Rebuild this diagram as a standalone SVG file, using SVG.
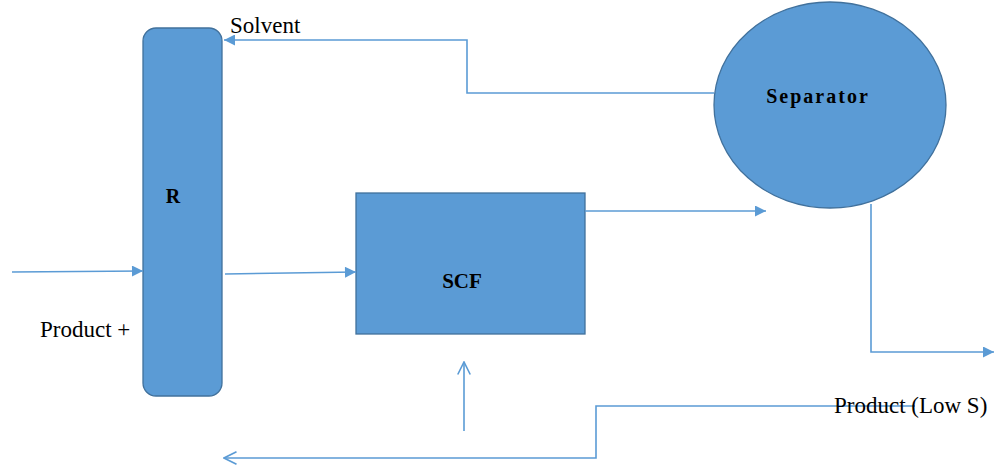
<svg xmlns="http://www.w3.org/2000/svg" width="1000" height="468" viewBox="0 0 1000 468">
<defs>
<style>
.shape{fill:#5b9bd5;stroke:#41719c;stroke-width:1.3}
.conn{fill:none;stroke:#5b9bd5;stroke-width:1.6}
.lbl{font-family:"Liberation Serif",serif;font-size:23px;fill:#000}
.bold{font-family:"Liberation Serif",serif;font-weight:bold;fill:#000}
</style>
<marker id="tri" viewBox="0 0 10 10" refX="10" refY="5" markerWidth="12" markerHeight="11" markerUnits="userSpaceOnUse" orient="auto">
<path d="M0,0 L10,5 L0,10 Z" fill="#5b9bd5"/>
</marker>
<marker id="open" viewBox="0 0 12 12" refX="11" refY="6" markerWidth="15" markerHeight="15" markerUnits="userSpaceOnUse" orient="auto">
<path d="M1,1 L11,6 L1,11" fill="none" stroke="#5b9bd5" stroke-width="1.3"/>
</marker>
</defs>
<rect width="1000" height="468" fill="#fff"/>
<g id="R">
<rect class="shape" x="143" y="28" width="79" height="368" rx="13"/>
<text class="bold" x="173" y="203" font-size="20" text-anchor="middle">R</text>
</g>
<g id="SCF">
<rect class="shape" x="356" y="193" width="229" height="141"/>
<text class="bold" x="462" y="288" font-size="21" text-anchor="middle">SCF</text>
</g>
<g id="Separator">
<ellipse class="shape" cx="830" cy="105" rx="116" ry="103"/>
<text class="bold" x="818" y="103" font-size="20" letter-spacing="2" text-anchor="middle">Separator</text>
</g>
<g id="connectors">
<polyline class="conn" points="714,93 467,93 467,40 224,40" marker-end="url(#tri)"/>
<line class="conn" x1="12" y1="272" x2="143" y2="271" marker-end="url(#tri)"/>
<line class="conn" x1="225" y1="274" x2="356" y2="272" marker-end="url(#tri)"/>
<line class="conn" x1="585" y1="211" x2="766" y2="211" marker-end="url(#tri)"/>
<polyline class="conn" points="871,204 871,352 994,352" marker-end="url(#tri)"/>
<line class="conn" x1="464" y1="431" x2="464" y2="362" marker-end="url(#open)"/>
<polyline class="conn" points="915,406 596,406 596,458 224,458" marker-end="url(#open)"/>
</g>
<g id="labels">
<text class="lbl" x="230" y="33">Solvent</text>
<text class="lbl" x="40" y="337">Product +</text>
<text class="lbl" x="834" y="413">Product (Low S)</text>
</g>
</svg>
